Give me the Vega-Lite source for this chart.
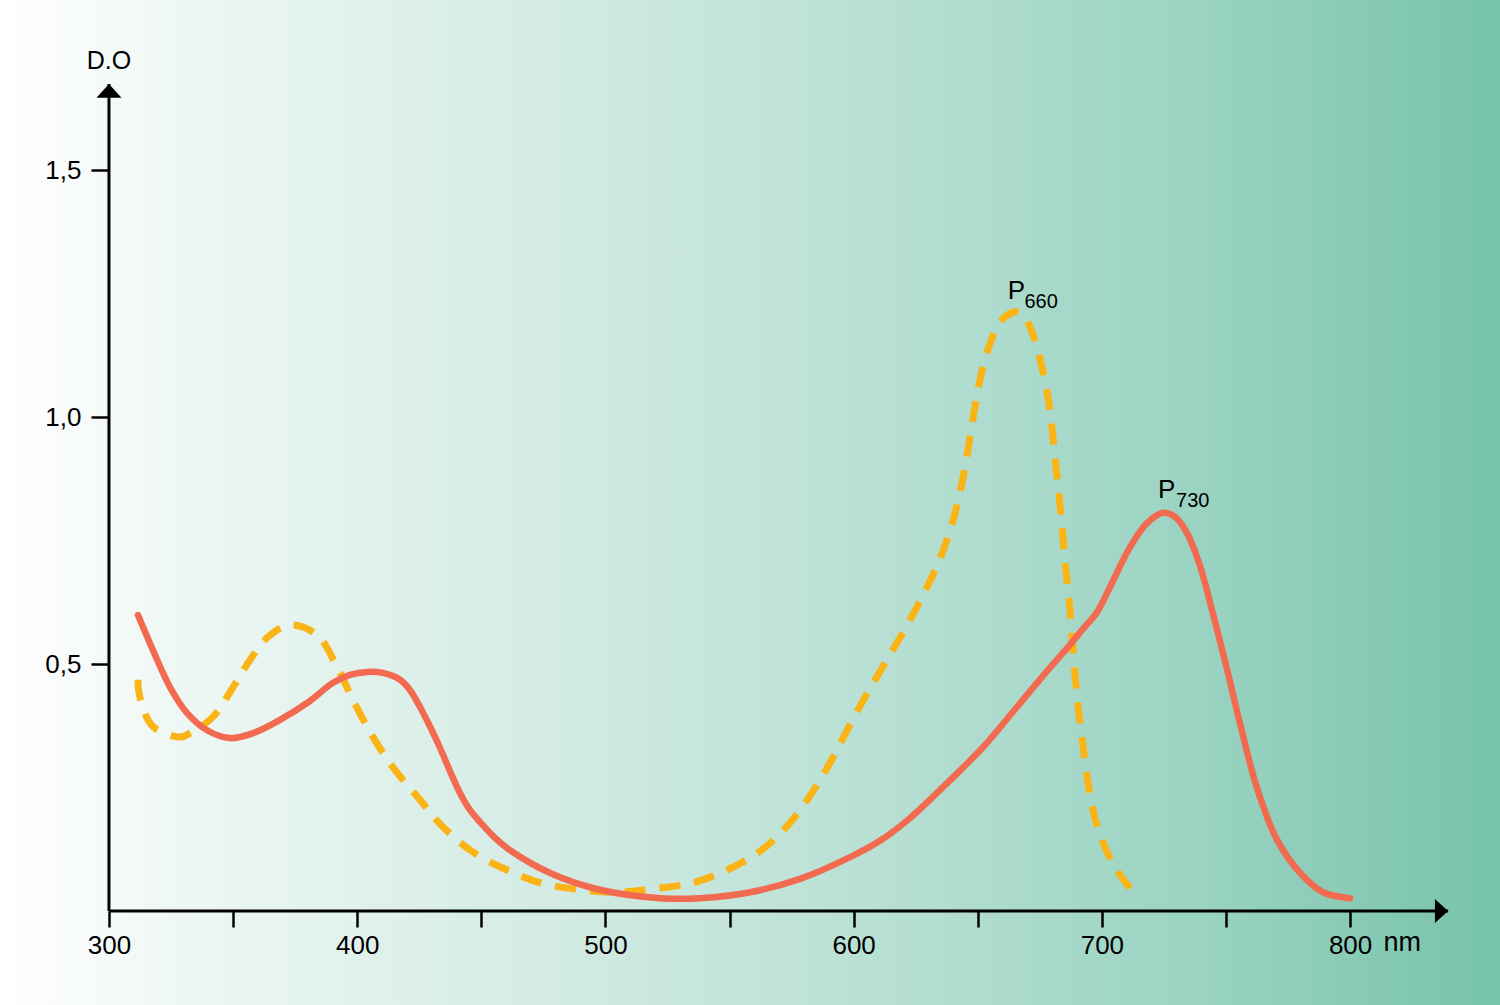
{
  "$schema": "https://vega.github.io/schema/vega-lite/v6.json",
  "width": 1500,
  "height": 1005,
  "autosize": {"type": "none"},
  "padding": 0,
  "background": "#ffffff",
  "config": {"view": {"stroke": null}, "font": "Liberation Sans"},
  "encoding": {
    "x": {
      "field": "x", "type": "quantitative",
      "scale": {"domain": [256.1, 860.4], "nice": false, "zero": false},
      "axis": {
        "orient": "bottom", "offset": -94, "domain": false, "grid": false, "zindex": 2,
        "values": [300, 350, 400, 450, 500, 550, 600, 650, 700, 750, 800],
        "tickSize": 16, "tickWidth": 2.5, "tickColor": "#000000",
        "labelFontSize": 26, "labelColor": "#000000", "labelPadding": 5,
        "labelFont": "Liberation Sans", "labelOverlap": false, "labelFlush": false,
        "labelExpr": "datum.value % 100 === 0 ? datum.label : ''",
        "title": null
      }
    },
    "y": {
      "field": "y", "type": "quantitative",
      "scale": {"domain": [-0.19028, 1.84413], "nice": false, "zero": false},
      "axis": {
        "orient": "left", "offset": -109, "domain": false, "grid": false, "zindex": 2,
        "values": [0.5, 1, 1.5],
        "tickSize": 18, "tickWidth": 2.5, "tickColor": "#000000",
        "labelFontSize": 26, "labelColor": "#000000", "labelPadding": 10,
        "labelFont": "Liberation Sans", "labelOverlap": false, "labelFlush": false,
        "labelExpr": "replace(format(datum.value, '.1f'), '.', ',')",
        "title": null
      }
    }
  },
  "layer": [
    {
      "data": {"values": [{"x0": 256.1, "x1": 860.4, "y0": -0.19028, "y1": 1.84413}]},
      "mark": {
        "type": "rect",
        "fill": {
          "gradient": "linear", "x1": 0, "y1": 0, "x2": 1, "y2": 0,
          "stops": [
            {"offset": 0, "color": "#ffffff"},
            {"offset": 0.12, "color": "#eef7f4"},
            {"offset": 0.35, "color": "#d5ece5"},
            {"offset": 0.6, "color": "#b6dfd2"},
            {"offset": 0.8, "color": "#9ad3c2"},
            {"offset": 1, "color": "#77c3ab"}
          ]
        }
      },
      "encoding": {
        "x": {"field": "x0", "type": "quantitative"},
        "x2": {"field": "x1"},
        "y": {"field": "y0", "type": "quantitative"},
        "y2": {"field": "y1"}
      }
    },
    {
      "data": {"values": [
        {"x": 300, "y": 0, "xe": 839.5, "ye": 0},
        {"x": 300, "y": 0, "xe": 300, "ye": 1.674}
      ]},
      "mark": {"type": "rule", "color": "#000000", "strokeWidth": 3},
      "encoding": {
        "x2": {"field": "xe"},
        "y2": {"field": "ye"}
      }
    },
    {
      "data": {"values": [{"x": 839.5, "y": 0}]},
      "mark": {"type": "point", "shape": "M-1.1,-1L0,0L-1.1,1Z", "size": 576, "filled": true, "color": "#000000", "opacity": 1},
      "encoding": {}
    },
    {
      "data": {"values": [{"x": 300, "y": 1.674}]},
      "mark": {"type": "point", "shape": "M-1,1.1L0,0L1,1.1Z", "size": 625, "filled": true, "color": "#000000", "opacity": 1},
      "encoding": {}
    },
    {
      "data": {"values": [
        {"x": 311.7, "y": 0.468}, {"x": 312.1, "y": 0.441}, {"x": 315.7, "y": 0.387},
        {"x": 318.5, "y": 0.370}, {"x": 328.6, "y": 0.352}, {"x": 332.7, "y": 0.360},
        {"x": 341.9, "y": 0.393}, {"x": 350.0, "y": 0.453}, {"x": 356.8, "y": 0.508},
        {"x": 364.1, "y": 0.555}, {"x": 372.9, "y": 0.579}, {"x": 383.8, "y": 0.559},
        {"x": 391.9, "y": 0.494}, {"x": 398.3, "y": 0.427}, {"x": 406.4, "y": 0.352},
        {"x": 414.4, "y": 0.291}, {"x": 425.3, "y": 0.225}, {"x": 434.6, "y": 0.170},
        {"x": 446.7, "y": 0.119}, {"x": 460.4, "y": 0.083}, {"x": 473.7, "y": 0.057},
        {"x": 489.8, "y": 0.043}, {"x": 504.7, "y": 0.038}, {"x": 519.2, "y": 0.045},
        {"x": 535.3, "y": 0.057}, {"x": 549.0, "y": 0.083}, {"x": 562.3, "y": 0.121},
        {"x": 573.2, "y": 0.172}, {"x": 582.4, "y": 0.233}, {"x": 590.5, "y": 0.300},
        {"x": 597.4, "y": 0.366}, {"x": 604.6, "y": 0.433}, {"x": 612.7, "y": 0.502},
        {"x": 620.7, "y": 0.571}, {"x": 627.6, "y": 0.636}, {"x": 634.0, "y": 0.704},
        {"x": 638.9, "y": 0.771}, {"x": 642.9, "y": 0.848}, {"x": 645.7, "y": 0.923},
        {"x": 648.1, "y": 0.998}, {"x": 650.9, "y": 1.075}, {"x": 655.0, "y": 1.150},
        {"x": 659.0, "y": 1.192}, {"x": 661.8, "y": 1.206}, {"x": 665.0, "y": 1.213},
        {"x": 667.9, "y": 1.209}, {"x": 672.3, "y": 1.166}, {"x": 676.3, "y": 1.091},
        {"x": 679.1, "y": 1.014}, {"x": 680.8, "y": 0.933}, {"x": 682.4, "y": 0.858},
        {"x": 684.0, "y": 0.777}, {"x": 685.2, "y": 0.704}, {"x": 686.8, "y": 0.630},
        {"x": 688.0, "y": 0.555}, {"x": 689.2, "y": 0.478}, {"x": 690.8, "y": 0.397},
        {"x": 692.8, "y": 0.320}, {"x": 694.9, "y": 0.245}, {"x": 698.1, "y": 0.172},
        {"x": 704.1, "y": 0.099}, {"x": 709.4, "y": 0.059}, {"x": 714.6, "y": 0.028}
      ]},
      "mark": {"type": "line", "color": "#fbb416", "strokeWidth": 7, "strokeDash": [21, 14], "interpolate": "catmull-rom"},
      "encoding": {}
    },
    {
      "data": {"values": [
        {"x": 311.7, "y": 0.599}, {"x": 317.7, "y": 0.528}, {"x": 324.6, "y": 0.453},
        {"x": 331.4, "y": 0.401}, {"x": 339.5, "y": 0.366}, {"x": 348.8, "y": 0.350},
        {"x": 358.0, "y": 0.360}, {"x": 368.9, "y": 0.387}, {"x": 379.8, "y": 0.421},
        {"x": 390.3, "y": 0.462}, {"x": 397.1, "y": 0.478}, {"x": 404.0, "y": 0.484},
        {"x": 410.4, "y": 0.482}, {"x": 417.3, "y": 0.468}, {"x": 421.3, "y": 0.447},
        {"x": 425.3, "y": 0.413}, {"x": 429.3, "y": 0.374}, {"x": 433.4, "y": 0.330},
        {"x": 437.4, "y": 0.283}, {"x": 441.4, "y": 0.239}, {"x": 445.5, "y": 0.204},
        {"x": 449.5, "y": 0.180}, {"x": 455.5, "y": 0.148}, {"x": 461.6, "y": 0.123},
        {"x": 477.7, "y": 0.077}, {"x": 497.8, "y": 0.043}, {"x": 522.0, "y": 0.026},
        {"x": 538.1, "y": 0.026}, {"x": 558.3, "y": 0.038}, {"x": 578.4, "y": 0.065},
        {"x": 598.6, "y": 0.109}, {"x": 610.6, "y": 0.142}, {"x": 622.7, "y": 0.188},
        {"x": 638.9, "y": 0.265}, {"x": 652.2, "y": 0.332}, {"x": 665.8, "y": 0.413},
        {"x": 676.3, "y": 0.476}, {"x": 686.0, "y": 0.532}, {"x": 692.4, "y": 0.571},
        {"x": 698.1, "y": 0.605}, {"x": 703.3, "y": 0.656}, {"x": 711.4, "y": 0.737},
        {"x": 718.2, "y": 0.785}, {"x": 724.7, "y": 0.806}, {"x": 729.5, "y": 0.798},
        {"x": 734.3, "y": 0.765}, {"x": 739.6, "y": 0.698}, {"x": 744.8, "y": 0.601},
        {"x": 750.5, "y": 0.488}, {"x": 755.7, "y": 0.379}, {"x": 762.5, "y": 0.249},
        {"x": 770.6, "y": 0.144}, {"x": 779.9, "y": 0.077}, {"x": 789.1, "y": 0.038},
        {"x": 800.0, "y": 0.026}
      ]},
      "mark": {"type": "line", "color": "#f26a4f", "strokeWidth": 6.5, "strokeCap": "round", "interpolate": "catmull-rom"},
      "encoding": {}
    },
    {
      "data": {"values": [
        {"x": 665.6, "y": 1.238, "t": "P"},
        {"x": 726.1, "y": 0.836, "t": "P"}
      ]},
      "mark": {"type": "text", "fontSize": 26, "align": "center", "baseline": "alphabetic", "color": "#000000", "font": "Liberation Sans"},
      "encoding": {"text": {"field": "t"}}
    },
    {
      "data": {"values": [
        {"x": 668.8, "y": 1.220, "t": "660"},
        {"x": 729.9, "y": 0.818, "t": "730"}
      ]},
      "mark": {"type": "text", "fontSize": 20, "align": "left", "baseline": "alphabetic", "color": "#000000", "font": "Liberation Sans"},
      "encoding": {"text": {"field": "t"}}
    },
    {
      "data": {"values": [{"x": 300, "y": 1.704, "t": "D.O"}]},
      "mark": {"type": "text", "fontSize": 25, "align": "center", "baseline": "alphabetic", "color": "#000000", "font": "Liberation Sans"},
      "encoding": {"text": {"field": "t"}}
    },
    {
      "data": {"values": [{"x": 821.0, "y": -0.081, "t": "nm"}]},
      "mark": {"type": "text", "fontSize": 27, "align": "center", "baseline": "alphabetic", "color": "#000000", "font": "Liberation Sans"},
      "encoding": {"text": {"field": "t"}}
    }
  ]
}
